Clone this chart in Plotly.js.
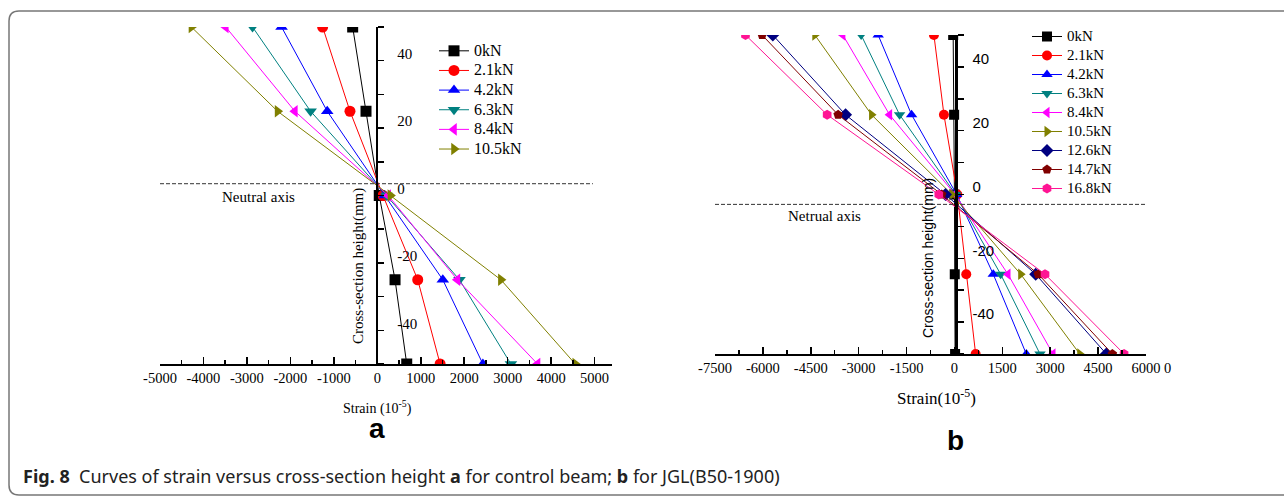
<!DOCTYPE html>
<html>
<head>
<meta charset="utf-8">
<script src="https://cdn.plot.ly/plotly-3.0.1.min.js"></script>
<style>html,body{margin:0;padding:0;background:#fff;}#chart{width:1284px;height:498px;}</style>
</head>
<body>
<div id="chart"></div>
<script>
// ---------------- DATA ----------------
// Panel a: control beam
const heightsA = [50, 25, 0, -25, -50];
const loadsA = ["0kN", "2.1kN", "4.2kN", "6.3kN", "8.4kN", "10.5kN"];
const strainA_0   = [-567, -260, 45, 408, 677];
const strainA_2_1 = [-1258, -629, 130, 930, 1445];
const strainA_4_2 = [-2203, -1152, 170, 1507, 2429];
const strainA_6_3 = [-2871, -1535, 210, 1890, 3074];
const strainA_8_4 = [-3486, -1896, 250, 1843, 3687];
const strainA_10_5 = [-4277, -2295, 300, 2843, 4555];
const neutralA_x = [-5000, 4960];
const neutralA_y = [3.5, 3.5];

// Panel b: JGL(B50-1900)
const heightsB = [50, 25, 0, -25, -50];
const loadsB = ["0kN", "2.1kN", "4.2kN", "6.3kN", "8.4kN", "10.5kN", "12.6kN", "14.7kN", "16.8kN"];
const strainB_0    = [-40, -10, 0, 10, 20];
const strainB_2_1  = [-643, -329, 90, 370, 664];
const strainB_4_2  = [-2389, -1342, 70, 1216, 2251];
const strainB_6_3  = [-2922, -1718, 40, 1448, 2680];
const strainB_8_4  = [-3495, -2031, 20, 1677, 3088];
const strainB_10_5 = [-4373, -2596, -80, 2075, 3925];
const strainB_12_6 = [-5690, -3411, -280, 2545, 4759];
const strainB_14_7 = [-6025, -3643, -400, 2627, 4947];
const strainB_16_8 = [-6545, -3987, -490, 2837, 5313];
const neutralB_x = [-7500, 6000];
const neutralB_y = [-3.1, -3.1];

// Tick labels
const xTickValsA = [-5000, -4000, -3000, -2000, -1000, 0, 1000, 2000, 3000, 4000, 5000];
const xTickTextA = ["-5000", "-4000", "-3000", "-2000", "-1000", "0", "1000", "2000", "3000", "4000", "5000"];
const yTickValsA = [-40, -20, 0, 20, 40];
const yTickTextA = ["-40", "-20", "0", "20", "40"];
const xTickValsB = [-7500, -6000, -4500, -3000, -1500, 0, 1500, 3000, 4500, 6000];
const xTickTextB = ["-7500", "-6000", "-4500", "-3000", "-1500", "0", "1500", "3000", "4500", "6000"];
const yTickValsB = [-40, -20, 0, 20, 40];
const yTickTextB = ["-40", "-20", "0", "20", "40"];

// ---------------- STYLE ----------------
const W = 1284, H = 498;
const px = v => v / W;
const py = v => 1 - v / H;
const SERIF = "Liberation Serif, Times New Roman, serif";
const SANS = "Liberation Sans, Arial, sans-serif";

const seriesA = [strainA_0, strainA_2_1, strainA_4_2, strainA_6_3, strainA_8_4, strainA_10_5];
const seriesB = [strainB_0, strainB_2_1, strainB_4_2, strainB_6_3, strainB_8_4, strainB_10_5, strainB_12_6, strainB_14_7, strainB_16_8];
const colors = ["#000000", "#FF0000", "#0000FF", "#008080", "#FF00FF", "#808000", "#000080", "#800000", "#FF1493"];
const symbols = ["square", "circle", "triangle-up", "triangle-down", "triangle-left", "triangle-right", "diamond", "pentagon", "hexagon"];

const sized = (t, s) => `<span style="font-size:${s}px">${t}</span>`;

const traces = [];
seriesA.forEach((s, i) => {
  traces.push({
    x: s, y: heightsA, xaxis: "x", yaxis: "y", type: "scatter", mode: "lines+markers",
    name: sized(loadsA[i], 16), legend: "legend",
    line: {color: colors[i], width: 1},
    marker: {symbol: symbols[i], size: 11, color: colors[i]}
  });
});
traces.push({x: neutralA_x, y: neutralA_y, xaxis: "x", yaxis: "y", mode: "lines", showlegend: false,
  line: {color: "#333", width: 1, dash: "4px,2px"}, hoverinfo: "skip"});
seriesB.forEach((s, i) => {
  traces.push({
    x: s, y: heightsB, xaxis: "x2", yaxis: "y2", type: "scatter", mode: "lines+markers",
    name: sized(loadsB[i], 15), legend: "legend2",
    line: {color: colors[i], width: 1},
    marker: {symbol: symbols[i], size: 10, color: colors[i]}
  });
});
traces.push({x: neutralB_x, y: neutralB_y, xaxis: "x2", yaxis: "y2", mode: "lines", showlegend: false,
  line: {color: "#333", width: 1, dash: "4px,2px"}, hoverinfo: "skip"});

const axCommon = {showgrid: false, zeroline: false, showline: true, linecolor: "#000", tickcolor: "#000", fixedrange: true};

function ann(text, x, y, font, extra) {
  return Object.assign({text: text, x: px(x), y: py(y), xref: "paper", yref: "paper", showarrow: false,
    xanchor: "center", yanchor: "middle", font: Object.assign({color: "#000"}, font)}, extra || {});
}

// rounded border path
const bx0 = px(9), by0 = py(11), by1 = py(495), r = 10;
const borderPath = `M ${px(1300)},${by0} L ${px(9 + r)},${by0} Q ${bx0},${by0} ${bx0},${py(11 + r)} L ${bx0},${py(495 - r)} Q ${bx0},${by1} ${px(9 + r)},${by1} L ${px(1300)},${by1}`;

const layout = {
  width: W, height: H,
  margin: {l: 0, r: 0, t: 0, b: 0},
  paper_bgcolor: "#fff", plot_bgcolor: "rgba(0,0,0,0)",
  xaxis: Object.assign({}, axCommon, {
    domain: [px(160), px(612)], range: [-5000, 5400], anchor: "y",
    linewidth: 2, ticks: "inside", ticklen: 7, tickwidth: 1.5,
    tickmode: "array", tickvals: xTickValsA, ticktext: xTickTextA,
    tickfont: {family: SERIF, size: 14.5, color: "#000"},
    minor: {tickmode: "linear", tick0: 0, dtick: 500, ticks: "inside", ticklen: 4, tickwidth: 1.5, tickcolor: "#000"}
  }),
  yaxis: Object.assign({}, axCommon, {
    domain: [py(364), py(27)], range: [-50, 50], anchor: "free", position: px(377.3), side: "right",
    linewidth: 2, ticks: "outside", ticklen: 6, tickwidth: 1.5,
    tickmode: "array", tickvals: yTickValsA, ticktext: yTickTextA,
    tickfont: {family: SERIF, size: 15, color: "#000"},
    ticklabelshift: -7, ticklabelstandoff: 10,
    minor: {tickmode: "linear", tick0: 0, dtick: 10, ticks: "outside", ticklen: 6, tickwidth: 1.5, tickcolor: "#000"}
  }),
  xaxis2: Object.assign({}, axCommon, {
    domain: [px(715), px(1146)], range: [-7500, 6000], anchor: "y2",
    linewidth: 2, ticks: "inside", ticklen: 7, tickwidth: 1.5,
    tickmode: "array", tickvals: xTickValsB, ticktext: xTickTextB,
    tickfont: {family: SERIF, size: 14.5, color: "#000"},
    minor: {tickmode: "linear", tick0: 0, dtick: 750, ticks: "inside", ticklen: 4, tickwidth: 1.5, tickcolor: "#000"}
  }),
  yaxis2: Object.assign({}, axCommon, {
    domain: [py(354), py(35)], range: [-50, 50], anchor: "free", position: px(955.5), side: "right",
    linewidth: 3, ticks: "outside", ticklen: 6, tickwidth: 1.5,
    tickmode: "array", tickvals: yTickValsB, ticktext: yTickTextB,
    tickfont: {family: SANS, size: 15, color: "#000"},
    ticklabelshift: -8, ticklabelstandoff: 6,
    minor: {tickmode: "linear", tick0: 0, dtick: 10, ticks: "outside", ticklen: 6, tickwidth: 1.5, tickcolor: "#000"}
  }),
  legend: {x: px(434), y: py(36), xanchor: "left", yanchor: "top", bgcolor: "rgba(0,0,0,0)",
    font: {family: SERIF, size: 12.8, color: "#000"}, borderwidth: 0, tracegroupgap: 0},
  legend2: {x: px(1027), y: py(22), xanchor: "left", yanchor: "top", bgcolor: "rgba(0,0,0,0)",
    font: {family: SERIF, size: 11.9, color: "#000"}, borderwidth: 0, tracegroupgap: 0},
  showlegend: true,
  shapes: [{type: "path", path: borderPath, xref: "paper", yref: "paper", line: {color: "#777", width: 1.5}}],
  annotations: [
    ann("Cross-section height(mm)", 358, 266, {family: SERIF, size: 15}, {textangle: -90}),
    ann("Strain (10<sup>-5</sup>)", 377, 407, {family: SERIF, size: 14}),
    ann("<b>a</b>", 377, 428, {family: SANS, size: 28}),
    ann("Neutral axis", 258, 197, {family: SERIF, size: 15}),
    ann("Cross-section height(mm)", 928, 258, {family: SANS, size: 14}, {textangle: -90}),
    ann("Strain(10<sup>-5</sup>)", 936, 397, {family: SERIF, size: 17}),
    ann("<b>b</b>", 955, 440, {family: SANS, size: 28}),
    ann("Netrual axis", 824, 216, {family: SERIF, size: 15}),
    ann("0", 1167, 368, {family: SERIF, size: 14.5}),
    ann("<b>Fig. 8</b>  Curves of strain versus cross-section height <b>a</b> for control beam; <b>b</b> for JGL(B50-1900)",
        21, 476, {family: "Noto Sans, Open Sans, sans-serif", size: 18, color: "#222"}, {xanchor: "left"})
  ]
};

Plotly.newPlot("chart", traces, layout, {staticPlot: true, displayModeBar: false});
</script>
</body>
</html>
